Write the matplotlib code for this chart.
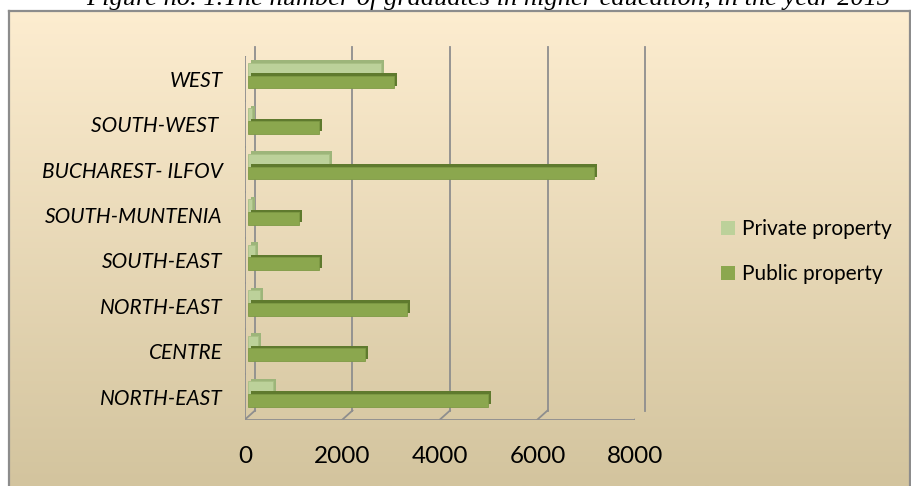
import matplotlib
matplotlib.use("Agg")
import matplotlib.pyplot as plt
import matplotlib.transforms as mtransforms
from matplotlib.patches import Patch
import numpy as np

categories = ["NORTH-EAST", "CENTRE", "NORTH-EAST", "SOUTH-EAST",
              "SOUTH-MUNTENIA", "BUCHAREST- ILFOV", "SOUTH-WEST ", "WEST"]
private_property = [510, 200, 230, 140, 70, 1655, 70, 2720]
public_property = [4920, 2390, 3260, 1440, 1030, 7080, 1440, 2980]
x_ticks = [0, 2000, 4000, 6000, 8000]
series_names = ["Private property", "Public property"]
title = "Figure no. 1.The number of graduates in higher education, in the year 2013"

W, H = 912, 486
DPI = 100
fig = plt.figure(figsize=(W / DPI, H / DPI), dpi=DPI)
fig.patch.set_facecolor("white")

def fx(px):
    return px / W

def fy(py):
    return 1 - py / H

# background box with gradient
bg = fig.add_axes([fx(9), 0, fx(910) - fx(9), fy(11)])
grad = np.linspace(0, 1, 256).reshape(-1, 1)
top = np.array([253, 237, 208]) / 255
bot = np.array([211, 196, 158]) / 255
img = top[None, None, :] * (1 - grad[:, :, None]) + bot[None, None, :] * grad[:, :, None]
bg.imshow(img, aspect="auto", extent=[0, 1, 0, 1], origin="upper")
bg.set_xlim(0, 1)
bg.set_ylim(0, 1)
bg.set_xticks([])
bg.set_yticks([])
for s in ["left", "top", "right"]:
    bg.spines[s].set_color("#8c8c8c")
    bg.spines[s].set_linewidth(1.6)
bg.spines["bottom"].set_visible(False)
bg.set_zorder(0)

fig.text(fx(488), fy(5), title, ha="center", va="baseline",
         fontsize=19, fontstyle="italic", family="Liberation Serif", color="black")

# main axes (front plane)
x0, x1 = 245, 635
ytop, ybot = 56, 419.5
ax = fig.add_axes([fx(x0), fy(ybot), fx(x1) - fx(x0), (ybot - ytop) / H])
ax.set_zorder(2)
ax.patch.set_alpha(0)
ax.set_xlim(0, 8000)
ax.set_ylim(-0.5, len(categories) - 0.5)
for s in ax.spines.values():
    s.set_visible(False)

def shifted(dxp, dyp):
    return ax.transData + mtransforms.ScaledTranslation(dxp / DPI, dyp / DPI, fig.dpi_scale_trans)

grid_c = "#8e8e8e"
glw = 1.3
back = shifted(10, 9)
front = ax.transData
ylo, yhi = -0.5, len(categories) - 0.5
for xv in x_ticks:
    ax.plot([xv, xv], [ylo, yhi], color=grid_c, lw=glw, transform=back, clip_on=False, zorder=1)
    p_front = front.transform((xv, ylo))
    p_back = back.transform((xv, ylo))
    ax.add_line(plt.Line2D([p_front[0], p_back[0]], [p_front[1], p_back[1]], transform=None,
                           color=grid_c, lw=glw, zorder=1))
    ax.add_line(plt.Line2D([p_front[0], p_front[0]], [p_front[1], p_front[1] - 6], transform=None,
                           color=grid_c, lw=glw, zorder=1))
pa = front.transform((0, ylo))
pb = front.transform((8000, ylo))
ax.add_line(plt.Line2D([pa[0] - 4, pb[0]], [pa[1], pb[1]], transform=None, color=grid_c, lw=glw, zorder=1))
pt = front.transform((0, yhi))
ptb = back.transform((0, yhi))
ax.add_line(plt.Line2D([pa[0], pt[0]], [pa[1], pt[1]], transform=None, color=grid_c, lw=glw, zorder=1))
ax.add_line(plt.Line2D([pt[0], ptb[0]], [pt[1], ptb[1]], transform=None, color=grid_c, lw=glw, zorder=1))
for b in np.arange(-0.5, len(categories), 1.0):
    p = front.transform((0, b))
    ax.add_line(plt.Line2D([p[0] - 5, p[0]], [p[1], p[1]], transform=None, color=grid_c, lw=glw, zorder=1))

# bars (middle depth)
ypos = np.arange(len(categories))
h = 0.28
priv_c, priv_side = "#bcd19a", "#9db57a"
pub_c, pub_side = "#8ba74e", "#5f7a2e"
bar_t = shifted(3.5, 3)
depth_t = shifted(6.5, 5.5)
ax.barh(ypos + 0.14, private_property, height=h, color=priv_side, transform=depth_t, zorder=3)
ax.barh(ypos + 0.14, private_property, height=h, color=priv_c, transform=bar_t, zorder=4,
        edgecolor="#a9c085", linewidth=0.6)
ax.barh(ypos - 0.14, public_property, height=h, color=pub_side, transform=depth_t, zorder=5)
ax.barh(ypos - 0.14, public_property, height=h, color=pub_c, transform=bar_t, zorder=6,
        edgecolor="#7e9a45", linewidth=0.6)

# tick labels
ax.set_yticks(ypos)
ax.set_yticklabels(categories, fontsize=15, fontstyle="italic", family="Lato")
ax.tick_params(axis="y", length=0, pad=16)
ax.set_xticks(x_ticks)
ax.set_xticklabels([str(v) for v in x_ticks], fontsize=17.5, family="Lato")
ax.tick_params(axis="x", length=0, pad=19)

handles = [Patch(facecolor=priv_c, edgecolor="none"), Patch(facecolor=pub_c, edgecolor="none")]
fig.legend(handles, series_names, loc="center left", bbox_to_anchor=(fx(721), fy(251.5)),
           frameon=False, prop={"family": "Lato", "size": 15},
           handlelength=0.67, handleheight=0.67, handletextpad=0.35, labelspacing=1.2,
           borderaxespad=0, borderpad=0)

fig.savefig("out.png", dpi=DPI)
